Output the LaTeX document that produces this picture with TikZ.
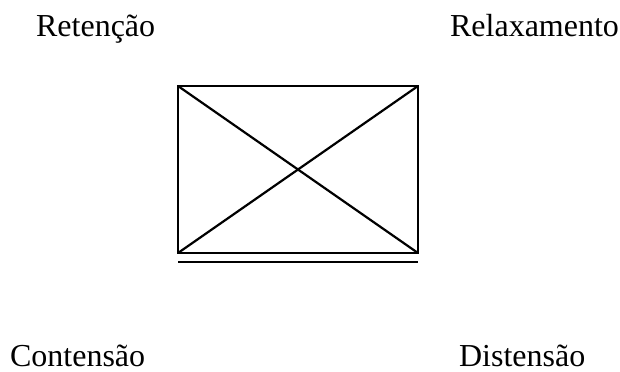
\documentclass[tikz,border=0pt]{standalone}
\usepackage{fontspec}
\setmainfont{Liberation Serif}
\begin{document}
\begin{tikzpicture}[x=0.5pt, y=-0.5pt, line width=1.1pt, line join=miter, font=\fontsize{16}{19}\selectfont]
			\useasboundingbox (0,0) rectangle (620,371);
			\coordinate (tl) at (178,86);
			\coordinate (tr) at (418,86);
			\coordinate (bl) at (178,253);
			\coordinate (br) at (418,253);
			\coordinate (ul) at (178,262);
			\coordinate (ur) at (418,262);
			\draw (tl) rectangle (br);
			\draw (tl)--(br);
			\draw (bl)--(tr);
			\draw (ul)--(ur);
			\node[anchor=base west, inner sep=0pt] (retencao) at (35,36) {Retenção};
			\node[anchor=base west, inner sep=0pt] (relax) at (449,36) {Relaxamento};
			\node[anchor=base west, inner sep=0pt] (contensao) at (9,366) {Contensão};
			\node[anchor=base west, inner sep=0pt] (distensao) at (458,366) {Distensão};
		\end{tikzpicture}
\end{document}
